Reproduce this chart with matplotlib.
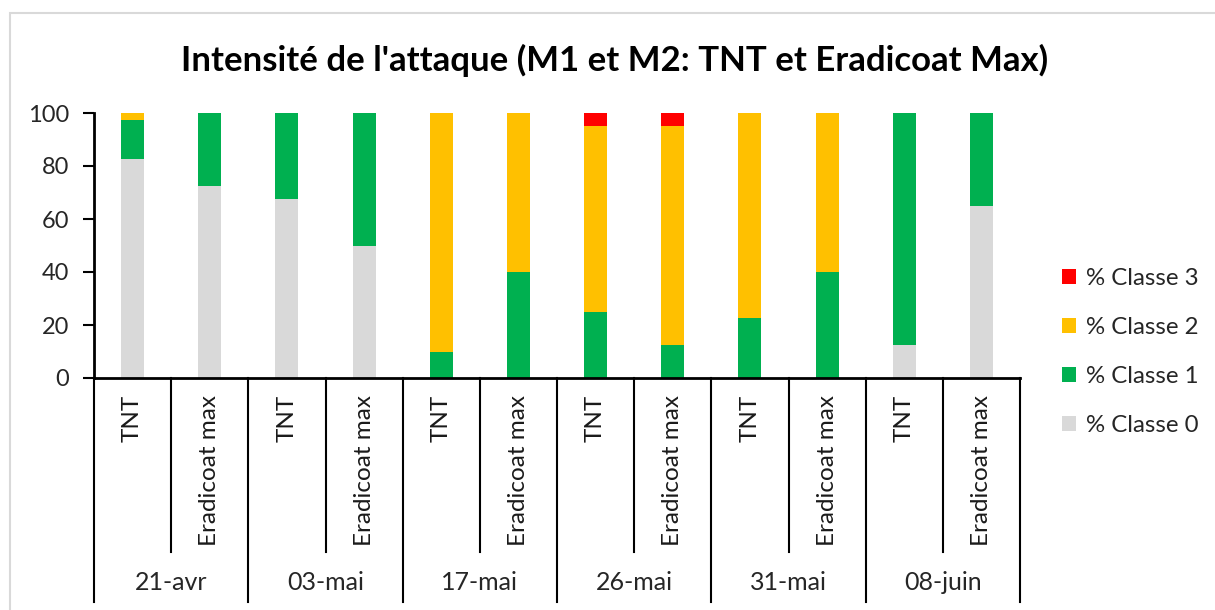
import matplotlib
matplotlib.use("Agg")
import matplotlib.pyplot as plt
import matplotlib.patches as mpatches
import numpy as np

plt.rcParams['font.family'] = ['Lato', 'DejaVu Sans']

dates = ['21-avr', '03-mai', '17-mai', '26-mai', '31-mai', '08-juin']
treatments = ['TNT', 'Eradicoat max']

# one value per bar, in order TNT / Eradicoat max for each date
classe0 = [82.5, 72.5, 67.5, 50, 0, 0, 0, 0, 0, 0, 12.5, 65]
classe1 = [15, 27.5, 32.5, 50, 10, 40, 25, 12.5, 22.5, 40, 87.5, 35]
classe2 = [2.5, 0, 0, 0, 90, 60, 70, 82.5, 77.5, 60, 0, 0]
classe3 = [0, 0, 0, 0, 0, 0, 5, 5, 0, 0, 0, 0]

series = [classe0, classe1, classe2, classe3]
labels = ['% Classe 0', '% Classe 1', '% Classe 2', '% Classe 3']
colors = ['#D9D9D9', '#00B050', '#FFC000', '#FF0000']

W, H = 1215, 610
fig = plt.figure(figsize=(W / 100, H / 100), dpi=100)
ax = fig.add_axes([94 / W, 1 - 378 / H, (1020 - 94) / W, (378 - 113) / H])

n = len(classe0)
x = np.arange(n)
bottom = np.zeros(n)
for vals, lab, col in zip(series, labels, colors):
    ax.bar(x, vals, width=0.3, bottom=bottom, color=col, label=lab, zorder=2)
    bottom += np.array(vals)

ax.set_xlim(-0.5, n - 0.5)
ax.set_ylim(0, 100)
ax.set_yticks(range(0, 101, 20))
ax.tick_params(axis='y', labelsize=17, length=8, width=1.5, colors='#262626', pad=10)
ax.tick_params(axis='y', color='black')
ax.set_xticks([])
for s in ['top', 'right']:
    ax.spines[s].set_visible(False)
ax.spines['left'].set_linewidth(2)
ax.spines['bottom'].set_linewidth(2)

# two-level category axis
trans = ax.get_xaxis_transform()
inner_low = -(552 - 378) / (378 - 113)
outer_low = -(602 - 378) / (378 - 113)
for i in range(n):
    ax.text(i, -(395 - 378) / (378 - 113), treatments[i % 2], rotation=90,
            ha='center', va='top', fontsize=17.5, color='#1a1a1a', transform=trans)
for k in range(len(dates)):
    ax.plot([2 * k + 0.5] * 2, [0, inner_low], color='black', lw=1.5,
            transform=trans, clip_on=False)
    ax.text(2 * k + 0.5, -(583 - 378) / (378 - 113), dates[k], ha='center',
            va='center', fontsize=18, color='#262626', transform=trans)
for k in range(len(dates) + 1):
    ax.plot([2 * k - 0.5] * 2, [0, outer_low], color='black', lw=1.5,
            transform=trans, clip_on=False)

fig.text(615 / W, 1 - 60 / H, "Intensité de l'attaque (M1 et M2: TNT et Eradicoat Max)",
         ha='center', va='center', fontsize=25, fontweight='bold', color='black')

h, l = ax.get_legend_handles_labels()
fig.legend(h[::-1], l[::-1], loc='center left', bbox_to_anchor=(1040 / W, 1 - 352 / H),
           frameon=False, fontsize=17.3, handlelength=0.6, handleheight=0.6,
           handletextpad=0.4, labelspacing=1.17, labelcolor='#262626')

# light grey outer border of the chart
fig.patches.append(mpatches.Rectangle((10 / W, -0.05), 1.1, 1 - 13 / H + 0.05,
                                      transform=fig.transFigure, fill=False,
                                      edgecolor='#D9D9D9', lw=1.5))

fig.savefig('out.png', dpi=100)
